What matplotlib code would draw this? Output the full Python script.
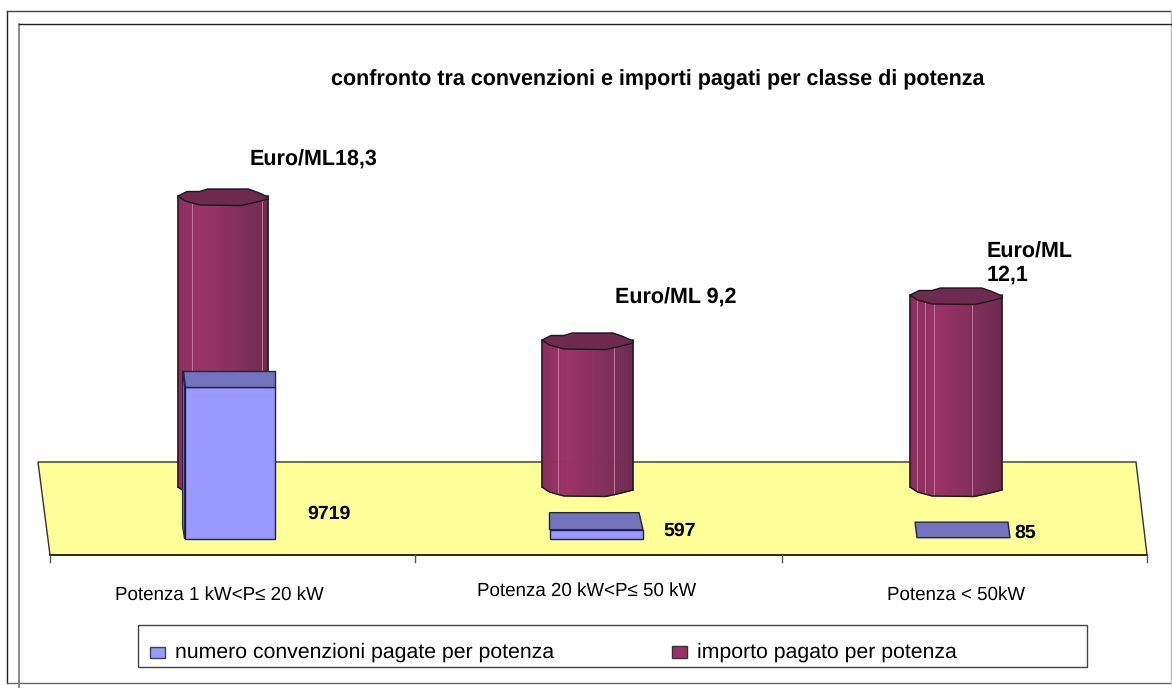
import matplotlib
matplotlib.use('Agg')
import matplotlib.pyplot as plt
import numpy as np
from matplotlib.patches import Polygon, Rectangle

plt.rcParams['font.family'] = ['Liberation Sans', 'DejaVu Sans']
plt.rcParams['text.hinting'] = 'no_hinting'

categorie = ['Potenza 1 kW<P≤ 20 kW', 'Potenza 20 kW<P≤ 50 kW', 'Potenza < 50kW']
convenzioni = [9719, 597, 85]
importi = [291, 147, 192]  # no scale shown
etichette_conv = ['9719', '597', '85']
etichette_euro = ['Euro/ML18,3', 'Euro/ML 9,2', 'Euro/ML\n12,1']
legenda = ['numero convenzioni pagate per potenza', 'importo pagato per potenza']
titolo = 'confronto tra convenzioni e importi pagati per classe di potenza'

VIOLA = '#9999ff'
VIOLA_TOP = '#7373bd'
PRUGNA = '#993366'
BORDO = '#1a1a1a'

fig = plt.figure(figsize=(11.72, 6.88), dpi=100)
ax = fig.add_axes([0, 0, 1, 1])
ax.set_xlim(0, 1172)
ax.set_ylim(688, 0)
ax.axis('off')

# frames
ax.plot([7, 7], [10.5, 683], color='#222222', lw=1, zorder=1)
ax.plot([7, 1172], [10.5, 10.5], color='#444444', lw=1, zorder=1)
ax.plot([7, 1172], [683, 683], color='#666666', lw=1, zorder=1)
ax.plot([1171, 1171], [10.5, 683], color='#bbbbbb', lw=1, zorder=1)
ax.plot([19, 19], [24, 688], color='#777777', lw=1.2, zorder=1)
ax.plot([19, 1172], [24, 24], color='#222222', lw=1, zorder=1)

# floor
ax.add_patch(Polygon([(38, 462), (1136, 462), (1147, 555), (50, 555)], closed=True,
                     facecolor='#ffff99', edgecolor='#333333', lw=1, zorder=2))
ax.plot([50, 1147], [555, 555], color='#222222', lw=1.2, zorder=3)
for x in [50, 415, 782, 1147]:
    ax.plot([x, x], [555, 562], color='#555555', lw=1, zorder=3)

# outline of the cylinder ends, fraction of width / pixel offset
cap_up_t = [0, 0.10, 0.24, 0.33, 0.78, 0.89, 1]
cap_up_y = [0, -4.5, -4.5, -7, -7, -3.5, 1]
cap_lo_t = [0, 0.08, 0.24, 0.70, 0.85, 1]
cap_lo_y = [0, 5, 9, 9.5, 6.5, 3]


def cilindro(x0, x1, base, h, righe):
    # polygonal 3D cylinder, narrow vertical strips for the shading
    top = base - h
    n = 46
    xs = np.linspace(x0, x1, n + 1)
    t = np.linspace(0, 1, n + 1)
    prof = np.interp(t, cap_lo_t, cap_lo_y)
    c0 = np.array([0x8a, 0x2e, 0x5e]) / 255
    c1 = np.array([0x9a, 0x33, 0x66]) / 255
    c2 = np.array([0x6e, 0x2a, 0x50]) / 255
    for i in range(n):
        f = (i + 0.5) / n
        if f < 0.3:
            c = c0 + (c1 - c0) * f / 0.3
        else:
            c = c1 + (c2 - c1) * (f - 0.3) / 0.7
        ax.add_patch(Polygon([(xs[i], top), (xs[i + 1], top),
                              (xs[i + 1], base + prof[i + 1]), (xs[i], base + prof[i])],
                             closed=True, facecolor=c, edgecolor=c, lw=0.6, zorder=4))
    for x in righe:
        k = np.interp(x, xs, prof)
        ax.plot([x, x], [top, base + k], color='#bf7a9c', lw=0.7, zorder=4)
    ax.plot(xs, base + prof, color=BORDO, lw=1, zorder=5)
    ax.plot([x0, x0], [top, base], color=BORDO, lw=1.1, zorder=5)
    ax.plot([x1, x1], [top, base + prof[-1]], color=BORDO, lw=1.1, zorder=5)
    up = [(x0 + a * (x1 - x0), top + b) for a, b in zip(cap_up_t, cap_up_y)]
    lo = [(x0 + a * (x1 - x0), top + b) for a, b in zip(cap_lo_t, cap_lo_y)]
    ax.add_patch(Polygon(up + lo[::-1], closed=True, facecolor='#6f2a4f', edgecolor=BORDO, lw=1, zorder=5))


def barra(x0, x1, val, sl, sr, prof, lato):
    # flat 3D box: top face, then front face scaled on the value
    base = 539
    h = val * 152 / 9719
    top = base - h
    if h > 3:
        if lato:
            ax.add_patch(Polygon([(x0 + sl, top - prof), (x0, top), (x0, base), (x0 + sl, base - 13)], closed=True,
                                 facecolor=VIOLA_TOP, edgecolor='#222244', lw=0.8, zorder=6))
        ax.add_patch(Rectangle((x0, top), x1 - x0, h, facecolor=VIOLA, edgecolor='#222244', lw=1, zorder=6))
    ax.add_patch(Polygon([(x0 + sl, top - prof), (x1 + sr, top - prof), (x1, top),
                          (x0, top)], closed=True, facecolor=VIOLA_TOP, edgecolor='#222244', lw=1, zorder=7))


cil_x = [(178, 268), (542, 633), (910, 1002)]
cil_righe = [[192, 262], [558, 614], [917, 925, 934, 972]]
barre_x = [(184.5, 275), (549.5, 643), (917, 1010)]
barre_sl = [-2, 0, -2]
barre_sr = [0, -4, -2]
barre_prof = [16.5, 17, 15.5]
pos_euro = [(250, 160), (615, 298), (987, 263)]
pos_conv = [(307, 514), (663, 531), (1014, 533)]
pos_cat = [(219, 595), (587, 591), (956, 595)]
base_cil = 487

for i in range(3):
    cilindro(cil_x[i][0], cil_x[i][1], base_cil, importi[i], cil_righe[i])
    ax.text(pos_euro[i][0], pos_euro[i][1], etichette_euro[i], fontsize=15.5, fontweight='bold',
            ha='left', va='center', color='black', zorder=9, linespacing=1.15)
    ax.text(pos_conv[i][0], pos_conv[i][1], etichette_conv[i], fontsize=14, fontweight='bold',
            ha='left', va='center', color='black', zorder=9)
    ax.text(pos_cat[i][0], pos_cat[i][1], categorie[i], fontsize=13.5, ha='center', va='center',
            color='black', zorder=9)
    barra(barre_x[i][0], barre_x[i][1], convenzioni[i], barre_sl[i], barre_sr[i], barre_prof[i], i == 0)

ax.text(658, 80, titolo, fontsize=15.5, fontweight='bold', ha='center', va='center', color='black')

# legend box
ax.add_patch(Rectangle((138, 625), 949, 42, facecolor='white', edgecolor='#444444', lw=1, zorder=6))
ax.add_patch(Rectangle((150, 647), 14.5, 11, facecolor=VIOLA, edgecolor='#444444', lw=1, zorder=7))
ax.text(175, 652, legenda[0], fontsize=15.35, ha='left', va='center', zorder=7)
ax.add_patch(Rectangle((672, 646), 15, 12, facecolor=PRUGNA, edgecolor='#333333', lw=1, zorder=7))
ax.text(697, 652, legenda[1], fontsize=15.35, ha='left', va='center', zorder=7)

fig.savefig('out.png', dpi=100)
